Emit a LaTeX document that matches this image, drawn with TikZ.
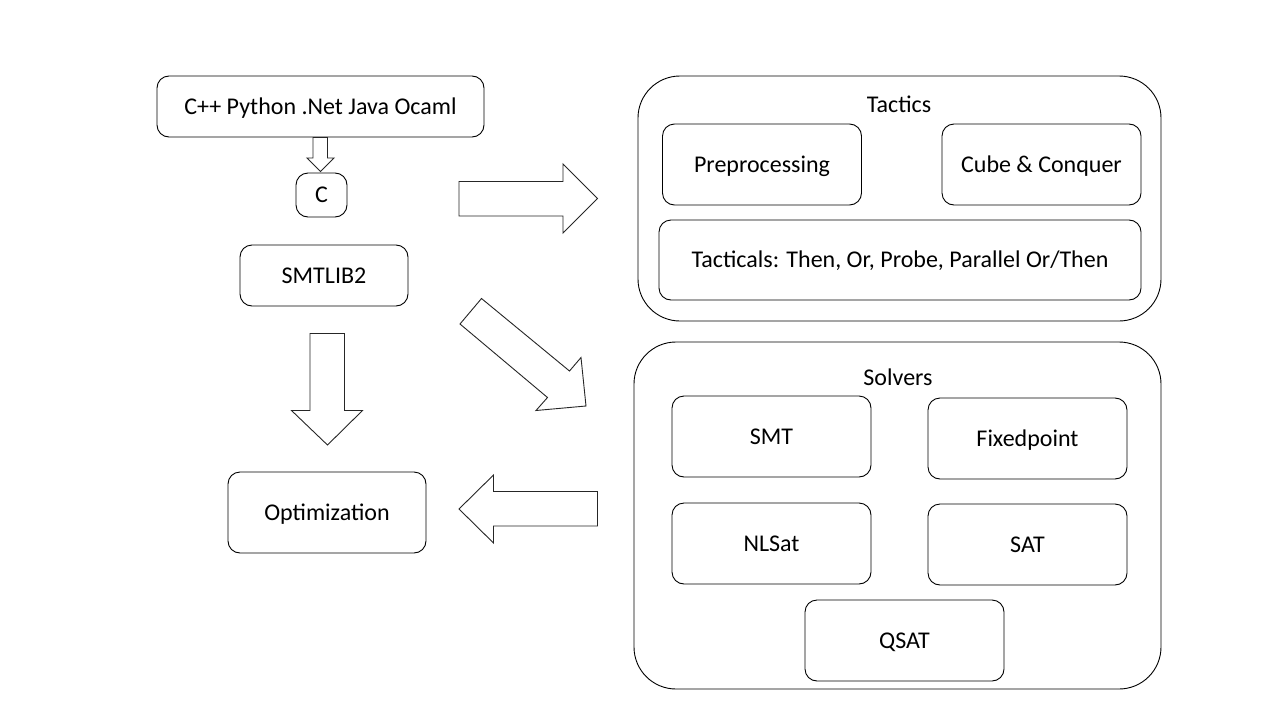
\documentclass[tikz,border=0pt]{standalone}
\usepackage{fontspec}
\setmainfont{Carlito}
\begin{document}
\begin{tikzpicture}[x=1pt,y=-1pt,
  box/.style={draw=black, line width=0.9pt, rounded corners=12pt, fill=white,
    font=\fontsize{24}{28}\selectfont, inner sep=0pt, text height=18pt, text depth=3pt},
  container/.style={draw=black, line width=0.9pt, rounded corners=42pt, inner sep=0pt},
  lbl/.style={font=\fontsize{24}{28}\selectfont, inner sep=0pt, text height=18pt, text depth=3pt},
  blockarrow/.style={draw=black!85, line width=0.9pt, fill=white, line join=miter}]
\useasboundingbox[fill=white] (0,0) rectangle (1280,720);

% containers
\node[container, minimum width=523pt, minimum height=245pt] (tactics) at (899.5,198.5) {};
\node[lbl] (tacticslbl) at (899,105) {Tactics};
\node[container, minimum width=527pt, minimum height=347pt] (solvers) at (897.5,515.5) {};
\node[lbl] (solverslbl) at (898,378) {Solvers};

% left column
\node[box, minimum width=327pt, minimum height=61pt] (lang) at (320.5,106.5) {C++ Python .Net Java Ocaml};
\node[box, minimum width=51pt, minimum height=44pt] (c) at (321.5,195) {C};
\node[box, minimum width=168pt, minimum height=61pt] (smtlib) at (324,275.5) {SMTLIB2};
\node[box, minimum width=198pt, minimum height=81pt] (opt) at (327,512.5) {Optimization};

% tactics
\node[box, minimum width=199pt, minimum height=81pt] (pre) at (762,164.5) {Preprocessing};
\node[box, minimum width=199pt, minimum height=81pt] (cube) at (1041.5,164.5) {Cube \& Conquer};
\node[box, minimum width=482pt, minimum height=80pt] (tacticals) at (900,260) {Tacticals: Then, Or, Probe, Parallel Or/Then};

% solvers
\node[box, minimum width=199pt, minimum height=81pt] (smt) at (771.5,436.5) {SMT};
\node[box, minimum width=199pt, minimum height=81pt] (fix) at (1027.5,438.5) {Fixedpoint};
\node[box, minimum width=199pt, minimum height=81pt] (nlsat) at (771.5,543.5) {NLSat};
\node[box, minimum width=199pt, minimum height=81pt] (sat) at (1027.5,544.5) {SAT};
\node[box, minimum width=199pt, minimum height=81pt] (qsat) at (904.5,640.5) {QSAT};

% block arrows
\draw[blockarrow] (lang.south -| 313,0) -- (313,158) -- (307,158) -- (320.5,171.5) -- (334,158) -- (327.5,158) -- (lang.south -| 327.5,0) -- cycle;
\draw[blockarrow] (459,181.5) -- (563,181.5) -- (563,164) -- (597.5,198.5) -- (563,233) -- (563,216) -- (459,216) -- cycle;
\draw[blockarrow] (481.5,298.5) -- (569.5,371) -- (581,357.5) -- (586,406) -- (536,410.5) -- (547.5,397.5) -- (460,324) -- cycle;
\draw[blockarrow] (310,333.5) -- (344.5,333.5) -- (344.5,410.5) -- (362.5,410.5) -- (327.5,445) -- (291.5,410.5) -- (310,410.5) -- cycle;
\draw[blockarrow] (597.5,491.5) -- (493.5,491.5) -- (493.5,475) -- (459,509) -- (493.5,543) -- (493.5,526) -- (597.5,526) -- cycle;
\end{tikzpicture}
\end{document}
